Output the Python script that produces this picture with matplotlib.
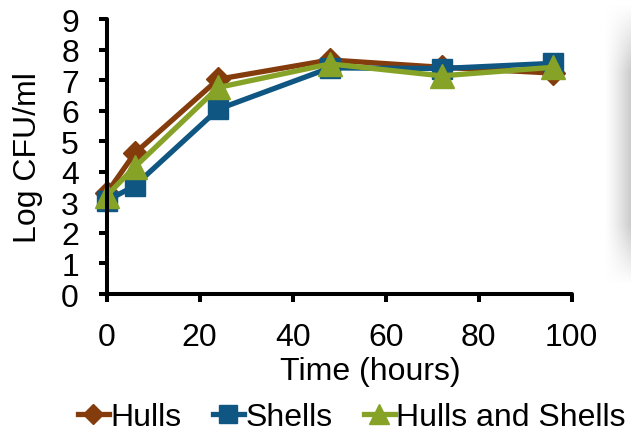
import matplotlib.pyplot as plt
import numpy as np

plt.rcParams['font.family'] = ['Liberation Sans', 'DejaVu Sans']

# sampling times (hours)
hours = [0, 6, 24, 48, 72, 96]

# log CFU/ml for each treatment
hulls = [3.3, 4.6, 7.03, 7.66, 7.42, 7.23]
shells = [3.05, 3.54, 6.05, 7.4, 7.38, 7.55]
hulls_shells = [3.22, 4.15, 6.76, 7.53, 7.14, 7.42]

labels = ['Hulls', 'Shells', 'Hulls and Shells']
colors = ['#843C0C', '#0F5782', '#86A327']
markers = ['D', 's', '^']
sizes = [12, 15, 17]

fig = plt.figure(figsize=(6.32, 4.35), dpi=100)

# soft grey shadow along the right edge (slide shadow in the original)
bg = fig.add_axes([598 / 632, 1 - 285 / 435, 33 / 632, 280 / 435], zorder=-1)
hx = np.clip((np.arange(33) - 6) / 26, 0, 1) ** 1.3
vy = np.ones(280)
vy[:70] = np.linspace(0, 1, 70)
vy[-60:] = np.linspace(1, 0, 60)
shade = 0.2 * np.outer(vy, hx)
img = np.ones((280, 33, 3)) * (1 - shade)[:, :, None]
bg.imshow(img, aspect='auto', interpolation='bilinear')
bg.axis('off')

ax = fig.add_axes([0.1688, 0.3218, 0.7358, 0.6322])

series = [hulls, shells, hulls_shells]
for vals, lab, c, m, s in zip(series, labels, colors, markers, sizes):
    ax.plot(hours, vals, color=c, lw=3.8, marker=m, ms=s, label=lab, clip_on=False)

ax.set_xlim(0, 100)
ax.set_ylim(0, 9)
ax.set_xticks(range(0, 101, 20))
ax.set_yticks(range(0, 10))
for side in ['top', 'right']:
    ax.spines[side].set_visible(False)
for side in ['left', 'bottom']:
    ax.spines[side].set_linewidth(2.9)
    ax.spines[side].set_capstyle('round')
ax.tick_params(width=2.9, length=6, labelsize=23)
ax.tick_params(axis='y', pad=14)
ax.tick_params(axis='x', pad=14)
ax.set_xlabel('Time (hours)', fontsize=23)
ax.xaxis.set_label_coords((370 - 106.7) / 465, -(372 - 295) / 275, transform=ax.transAxes)
ax.xaxis.label.set_va('center')
ax.set_ylabel('Log CFU/ml', fontsize=23)
ax.yaxis.set_label_coords(-(106.7 - 28) / 465, 0.5, transform=ax.transAxes)
ax.yaxis.label.set_va('center')

leg = ax.legend(loc='center', bbox_to_anchor=(352 / 632, 1 - 418 / 435),
                bbox_transform=fig.transFigure, ncol=3, frameon=False,
                fontsize=23, handlelength=0.95, handletextpad=0.05,
                columnspacing=1.0, borderaxespad=0, borderpad=0, markerscale=0.85)

fig.savefig('out.png', dpi=100)
